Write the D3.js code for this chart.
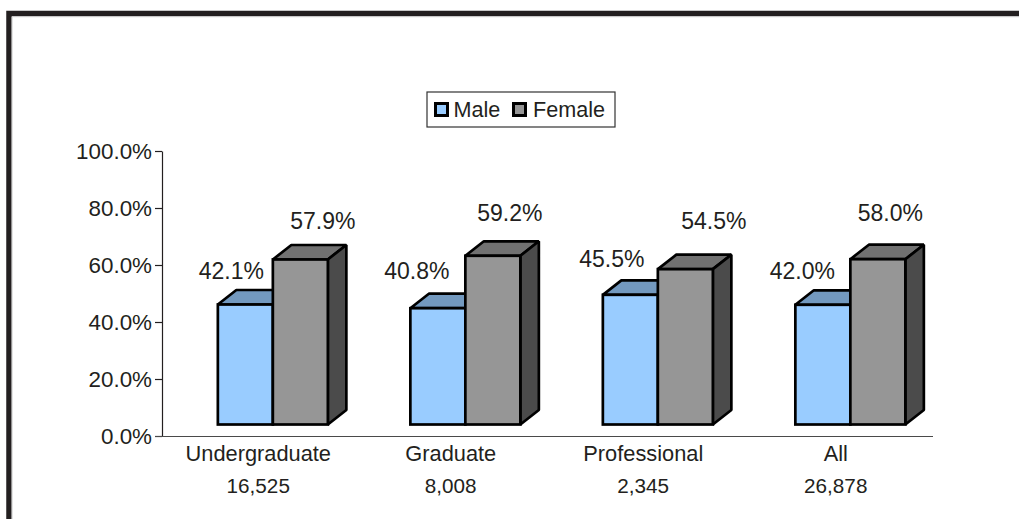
<!DOCTYPE html>
<html><head><meta charset="utf-8">
<script src="https://cdn.jsdelivr.net/npm/d3@7/dist/d3.min.js"></script>
<style>
html,body{margin:0;padding:0;background:#fff}
svg{display:block}
text{font-family:"Liberation Sans",Arial,sans-serif;fill:#231f20}
</style></head><body>
<div id="chart"></div>
<script>
const categories = ["Undergraduate","Graduate","Professional","All"];
const totals = ["16,525","8,008","2,345","26,878"];
const male = [42.1,40.8,45.5,42.0];
const female = [57.9,59.2,54.5,58.0];
const seriesNames = ["Male","Female"];
const yTicks = [0,20,40,60,80,100];

const W=1019,H=519;
const svg=d3.select("#chart").append("svg").attr("width",W).attr("height",H);
const FS=22.4;

// page frame
svg.append("path").attr("d","M9 519V13.5H1019").attr("fill","none").attr("stroke","#231f20").attr("stroke-width",5.5);
svg.append("path").attr("d","M12 519V16.7H1019").attr("fill","none").attr("stroke","#c8c8c8").attr("stroke-width",1);

const x=d3.scaleBand().domain(categories).range([162,932]);
const y=d3.scaleLinear().domain([0,100]).range([436,151]);

// axes
const gy=svg.append("g").attr("transform","translate(162,0)")
  .call(d3.axisLeft(y).tickValues(yTicks).tickSize(7).tickSizeOuter(0).tickPadding(3).tickFormat(d=>d.toFixed(1)+"%"));
gy.selectAll("text").attr("font-size",FS).attr("font-family","Liberation Sans").attr("dy","0.35em").attr("fill","#231f20");
gy.selectAll("line,path").attr("stroke","#231f20").attr("stroke-width",1.2);
const gx=svg.append("g").attr("transform","translate(0,436)")
  .call(d3.axisBottom(x).tickSize(0).tickPadding(3));
gx.select("path").attr("d","M155 0.5H933").attr("stroke","#4a4a4a").attr("stroke-width",1.2);
gx.selectAll("text").attr("font-size",21.8).attr("font-family","Liberation Sans").attr("fill","#231f20").attr("dy","1em");

// total counts under each category
svg.append("g").selectAll("text").data(categories).join("text")
  .attr("x",d=>x(d)+x.bandwidth()/2).attr("y",493).attr("text-anchor","middle")
  .attr("font-size",20.7).text((d,i)=>totals[i]);

// 3-D bars
const frontDx=14.6, frontDy=11.5, barW=55, depthX=18.5, depthY=14.5, SW=2.7;
const sx=d3.scaleBand().domain(seriesNames).range([-barW,barW]);
const base=y(0)-frontDy;
const styles={Male:{front:"#99ccff",top:"#7399bf"},Female:{front:"#969696",top:"#717171",side:"#4b4b4b"}};
const bars=seriesNames.map((s,si)=>({s,vals:si?female:male}));
const line=d3.line();
bars.forEach(({s,vals})=>{
  const g=svg.append("g").attr("stroke","#000").attr("stroke-width",SW).attr("stroke-linejoin","bevel");
  vals.forEach((v,i)=>{
    const x0=x(categories[i])+x.bandwidth()/2+frontDx+sx(s), x1=x0+barW, t=y(v)-frontDy;
    g.append("path").attr("fill",styles[s].top).attr("d",line([[x0,t],[x0+depthX,t-depthY],[x1+depthX,t-depthY],[x1,t]])+"Z");
    if(s==="Female") g.append("path").attr("fill",styles[s].side).attr("d",line([[x1,t],[x1+depthX,t-depthY],[x1+depthX,base-depthY],[x1,base]])+"Z");
  });
});
// fronts drawn after all tops so male top is overlapped by the female front
bars.forEach(({s,vals})=>{
  const g=svg.append("g").attr("stroke","#000").attr("stroke-width",SW);
  vals.forEach((v,i)=>{
    const x0=x(categories[i])+x.bandwidth()/2+frontDx+sx(s), t=y(v)-frontDy;
    g.append("rect").attr("x",x0).attr("y",t).attr("width",barW).attr("height",base-t).attr("fill",styles[s].front);
  });
});

// data labels (hand-placed in the original chart)
const labelCenterOffset={Male:[13.5,6.5,9,7],Female:[50,44.5,56,40]};
const labelBaseline={Male:[279,279,266.5,279],Female:[229,221,229,221]};
bars.forEach(({s,vals})=>{
  vals.forEach((v,i)=>{
    const x0=x(categories[i])+x.bandwidth()/2+frontDx+sx(s);
    svg.append("text").attr("x",x0+labelCenterOffset[s][i]).attr("y",labelBaseline[s][i])
      .attr("text-anchor","middle").attr("font-size",23).text(v.toFixed(1)+"%");
  });
});

// legend
const lg=svg.append("g");
lg.append("rect").attr("x",427).attr("y",92).attr("width",188).attr("height",35).attr("fill","#fff").attr("stroke","#333").attr("stroke-width",1.2);
[[435.5,453.5,"Male"],[513.5,533,"Female"]].forEach(([kx,tx,n])=>{
  lg.append("rect").attr("x",kx).attr("y",103.5).attr("width",12).attr("height",12).attr("fill",styles[n].front).attr("stroke","#000").attr("stroke-width",3);
  lg.append("text").attr("x",tx).attr("y",117).attr("font-size",21.6).text(n);
});
</script></body></html>
